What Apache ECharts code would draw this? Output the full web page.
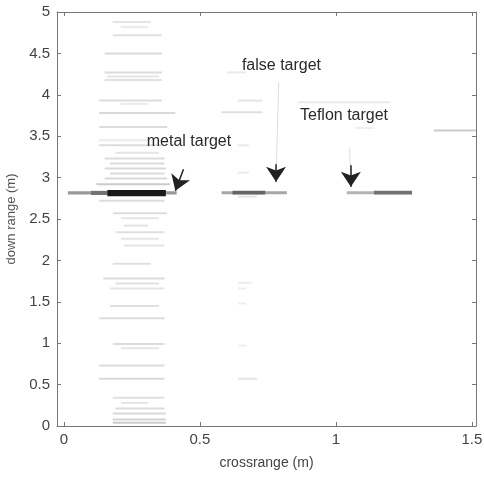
<!DOCTYPE html>
<html><head><meta charset="utf-8">
<script src="https://cdn.jsdelivr.net/npm/echarts@6/dist/echarts.min.js"></script>
<style>html,body{margin:0;padding:0;background:#fff}#c{width:484px;height:484px}</style>
</head><body><div id="c"></div>
<script>
// Axis settings
const xMin = -0.025, xMax = 1.515;
const xTicks = [0, 0.5, 1, 1.5];
const yMin = 0, yMax = 5, yStep = 0.5;
const xName = 'crossrange (m)';
const yName = 'down range (m)';

// Faint clutter streaks: [x0, x1, y, intensity 0..1]
const clutterStreaks = [
  [0.18,0.32,4.88,0.15],[0.21,0.31,4.82,0.12],[0.18,0.36,4.72,0.18],[0.15,0.36,4.50,0.22],
  [0.15,0.36,4.27,0.20],[0.16,0.35,4.22,0.15],[0.15,0.36,4.18,0.18],[0.13,0.36,3.93,0.20],
  [0.21,0.31,3.89,0.12],[0.13,0.41,3.78,0.22],[0.13,0.38,3.61,0.20],[0.13,0.31,3.45,0.12],
  [0.13,0.37,3.39,0.20],[0.19,0.35,3.30,0.15],[0.15,0.37,3.23,0.20],[0.17,0.37,3.17,0.20],
  [0.15,0.375,3.11,0.22],[0.17,0.37,3.05,0.20],[0.15,0.38,2.99,0.22],[0.12,0.39,2.92,0.30],
  [0.13,0.37,2.72,0.20],[0.18,0.38,2.57,0.20],[0.21,0.35,2.51,0.15],[0.22,0.31,2.42,0.15],
  [0.19,0.37,2.34,0.18],[0.21,0.35,2.26,0.15],[0.22,0.37,2.18,0.15],[0.18,0.32,1.96,0.18],
  [0.145,0.37,1.78,0.20],[0.19,0.35,1.72,0.18],[0.17,0.37,1.66,0.15],[0.17,0.35,1.45,0.18],
  [0.13,0.37,1.30,0.20],[0.18,0.37,0.99,0.20],[0.21,0.35,0.94,0.15],[0.13,0.37,0.73,0.20],
  [0.13,0.37,0.57,0.22],[0.18,0.37,0.34,0.18],[0.21,0.31,0.28,0.15],[0.19,0.37,0.21,0.20],
  [0.18,0.375,0.15,0.22],[0.18,0.375,0.08,0.25],[0.18,0.375,0.04,0.30],
  [0.60,0.67,4.27,0.12],[0.64,0.73,3.93,0.15],[0.58,0.73,3.79,0.18],[0.64,0.68,3.39,0.12],
  [0.64,0.68,3.06,0.12],[0.64,0.69,1.73,0.12],[0.64,0.67,1.66,0.10],[0.64,0.67,1.48,0.10],
  [0.64,0.67,0.97,0.10],[0.64,0.71,0.57,0.15],[0.64,0.71,2.77,0.15],
  [0.86,1.20,3.91,0.12],[1.07,1.14,3.60,0.10],[1.36,1.515,3.57,0.30]
];

// Target returns: [x0, x1, yLow, yHigh, intensity 0..1]
const targetBands = [
  [0.015,0.415,2.795,2.835,0.40],
  [0.10,0.16,2.79,2.84,0.55],
  [0.16,0.375,2.775,2.85,0.90],
  [0.58,0.82,2.80,2.835,0.35],
  [0.62,0.74,2.795,2.84,0.60],
  [1.04,1.28,2.80,2.835,0.30],
  [1.14,1.28,2.795,2.84,0.55]
];

// Annotation texts: [label, x, y]
const labels = [
  ['metal target', 0.46, 3.43],
  ['false target', 0.80, 4.35],
  ['Teflon target', 1.03, 3.75]
];
// Arrow shafts (faint) and heads: [[xFrom, yFrom], [xTo, yTo]]
const arrowShafts = [
  [[0.79, 4.15], [0.78, 3.0]],
  [[1.05, 3.35], [1.055, 3.0]]
];
const arrowHeads = [
  [[0.44, 3.1], [0.41, 2.84]],
  [[0.78, 3.16], [0.78, 2.95]],
  [[1.055, 3.15], [1.055, 2.89]]
];

function grayOf(level) {
  const g = Math.round(255 - 175 * level);
  return 'rgb(' + g + ',' + g + ',' + g + ')';
}
function darkOf(level) {
  const g = Math.round(255 * (1 - level));
  return 'rgb(' + g + ',' + g + ',' + g + ')';
}

const chart = echarts.init(document.getElementById('c'));
const font = 'Liberation Sans, Arial, sans-serif';
const axisCommon = {
  axisLine: { show: true, onZero: false, lineStyle: { color: '#777', width: 1 } },
  axisTick: { show: true, inside: true, length: 4, lineStyle: { color: '#777' } },
  splitLine: { show: false }
};
const xTickCfg = { show: true, inside: true, length: 4, lineStyle: { color: '#777' }, customValues: xTicks };
chart.setOption({
  backgroundColor: '#fff',
  animation: false,
  grid: { left: 57, right: 8, top: 12, bottom: 58, containLabel: false, outerBoundsMode: 'none' },
  xAxis: [
    Object.assign({}, axisCommon, {
      type: 'value', min: xMin, max: xMax, position: 'bottom',
      name: xName, nameLocation: 'middle', nameGap: 30,
      nameTextStyle: { color: '#444', fontSize: 14, fontFamily: font },
      axisTick: xTickCfg,
      axisLabel: { color: '#444', fontSize: 15, fontFamily: font, margin: 6, customValues: xTicks }
    }),
    Object.assign({}, axisCommon, {
      type: 'value', min: xMin, max: xMax, position: 'top',
      axisTick: xTickCfg,
      axisLabel: { show: false }
    })
  ],
  yAxis: [
    Object.assign({}, axisCommon, {
      type: 'value', min: yMin, max: yMax, interval: yStep, position: 'left',
      name: yName, nameLocation: 'middle', nameGap: 38,
      nameTextStyle: { color: '#555', fontSize: 13, fontFamily: font },
      axisLabel: { color: '#444', fontSize: 15, fontFamily: font, margin: 7 }
    }),
    Object.assign({}, axisCommon, {
      type: 'value', min: yMin, max: yMax, interval: yStep, position: 'right',
      axisLabel: { show: false }
    })
  ],
  series: [
    {
      type: 'custom',
      data: clutterStreaks,
      encode: { x: [0, 1], y: [2] },
      renderItem: function (params, api) {
        const a = api.coord([api.value(0), api.value(2)]);
        const b = api.coord([api.value(1), api.value(2)]);
        return { type: 'rect', shape: { x: a[0], y: a[1] - 1, width: b[0] - a[0], height: 2 },
                 style: { fill: grayOf(api.value(3)) } };
      }
    },
    {
      type: 'custom',
      data: targetBands,
      encode: { x: [0, 1], y: [2, 3] },
      renderItem: function (params, api) {
        const a = api.coord([api.value(0), api.value(3)]);
        const b = api.coord([api.value(1), api.value(2)]);
        return { type: 'rect', shape: { x: a[0], y: a[1], width: b[0] - a[0], height: Math.max(1, b[1] - a[1]) },
                 style: { fill: darkOf(api.value(4)) } };
      }
    },
    {
      type: 'line',
      data: [],
      markLine: {
        silent: true,
        animation: false,
        label: { show: false },
        data: arrowShafts.map(s => [
          { coord: s[0], symbol: 'none', lineStyle: { color: '#ddd', width: 1, type: 'solid' } },
          { coord: s[1], symbol: 'none' }
        ]).concat(arrowHeads.map(h => [
          { coord: h[0], symbol: 'none', lineStyle: { color: '#222', width: 1.5, type: 'solid' } },
          { coord: h[1], symbol: 'arrow', symbolSize: 15 }
        ]))
      },
      markPoint: {
        silent: true,
        animation: false,
        symbol: 'rect',
        symbolSize: 1,
        itemStyle: { color: 'rgba(0,0,0,0)' },
        label: { show: true, position: 'inside', color: '#2a2a2a', fontSize: 16, fontFamily: font },
        data: labels.map(l => ({ coord: [l[1], l[2]], value: l[0], label: { formatter: l[0] } }))
      }
    }
  ]
});
</script>
</body></html>
